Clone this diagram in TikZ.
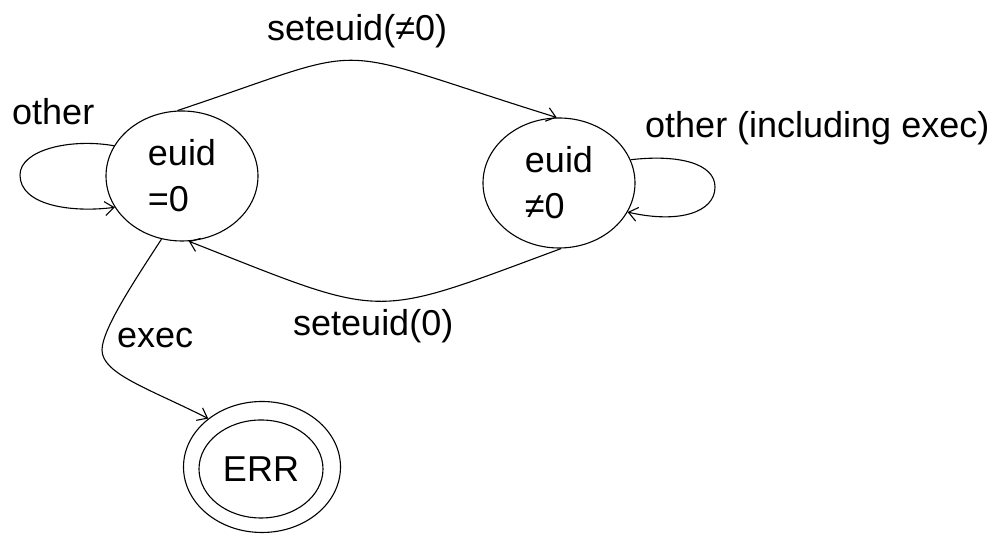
\documentclass[tikz,border=0pt]{standalone}
\usepackage{fontspec}
\setmainfont{Liberation Sans}
\usetikzlibrary{shapes.geometric,arrows.meta}
\begin{document}
\begin{tikzpicture}[x=1pt,y=1pt,
  state/.style={ellipse,draw,line width=1.1pt,minimum width=152pt,minimum height=130pt,inner sep=0pt,align=left,font=\fontsize{36}{46}\selectfont},
  edge/.style={line width=1.1pt,-{Straight Barb[length=9pt,width=14pt,line width=1.1pt]}},
  lbl/.style={font=\fontsize{36}{43}\selectfont,inner sep=0pt,anchor=base west}]
\useasboundingbox (0,0) rectangle (994,534);
% states
\node[state] (e0) at (182,358) {euid\\=0};
\node[state] (e1) at (559,351) {euid\\≠0};
\node[ellipse,draw,line width=1.1pt,minimum width=157pt,minimum height=131pt,inner sep=0pt] (ERR) at (262,67) {};
\node[ellipse,draw,line width=1.1pt,minimum width=124pt,minimum height=98pt,inner sep=0pt,font=\fontsize{36}{43}\selectfont] (ERRin) at (261,65) {ERR};
% self loop on e0
\coordinate (l0) at (20,359);
\draw[edge] (e0.156) .. controls (70,396) and (20,384) .. (l0) .. controls (20,329) and (70,321) .. (e0.205);
\node[lbl] (lother) at (12,409) {other};
% self loop on e1
\coordinate (l1) at (715,347);
\draw[edge] (e1.18) .. controls (680,380) and (715,370) .. (l1) .. controls (715,322) and (680,310) .. (e1.-23);
\node[lbl] (lother2) at (645,396) {other (including exec)};
% top arc
\draw[edge] (e0.94) .. controls (383,492) and (317,491) .. (e1.92);
\node[lbl] (lset1) at (267,493) {seteuid(≠0)};
% bottom arc
\draw[edge] (e1.-88) .. controls (368,214) and (389,214) .. (e0.-84);
\node[lbl] (lset0) at (293,198) {seteuid(0)};
% exec
\coordinate (w) at (102,184);
\draw[edge] (e0.252) .. controls (137,257) and (102,205) .. (w) .. controls (102,160) and (150,145) .. (ERR.138);
\node[lbl] (lexec) at (117,186) {exec};
\end{tikzpicture}
\end{document}
